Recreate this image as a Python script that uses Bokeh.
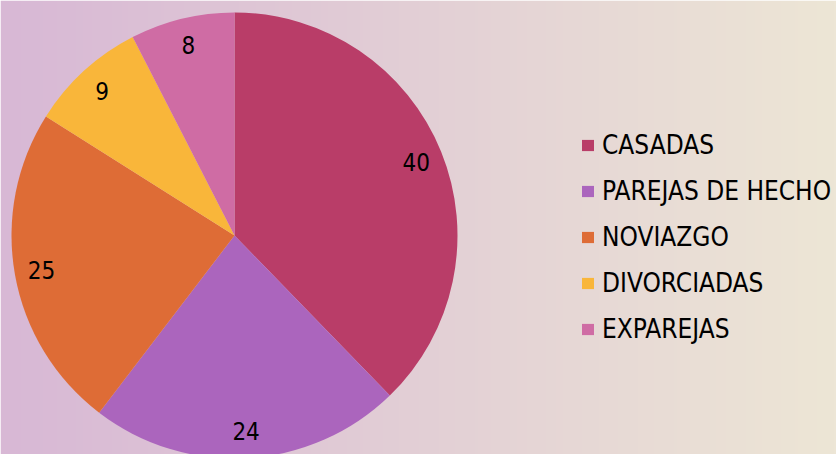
import numpy as np
from math import pi, cos, sin
from bokeh.plotting import figure
from bokeh.models import ColumnDataSource, Range1d, Legend, LegendItem
from bokeh.core.properties import value
from bokeh.embed import file_html
from bokeh.resources import INLINE

categories = ["CASADAS", "PAREJAS DE HECHO", "NOVIAZGO", "DIVORCIADAS", "EXPAREJAS"]
values = [40, 24, 25, 9, 8]
colors = ["#B93D68", "#AB65BD", "#DE6C36", "#F9B63A", "#CF6CA4"]

W, H = 836, 454
CX, CY, R = 234, 219, 223
FONT = "'DejaVu Sans Condensed', Roboto"

total = float(sum(values))
starts, ends, lx, ly = [], [], [], []
a = pi / 2
for v in values:
    span = v / total * 2 * pi
    starts.append(a - span)
    ends.append(a)
    mid = a - span / 2
    lx.append(CX + 196 * cos(mid))
    ly.append(CY + 196 * sin(mid))
    a -= span

src = ColumnDataSource(dict(cat=categories, val=[str(v) for v in values], color=colors,
                            start=starts, end=ends, lx=lx, ly=ly))

p = figure(width=W, height=H, output_backend="svg", toolbar_location=None,
           x_range=Range1d(0, W), y_range=Range1d(0, H),
           min_border=0, outline_line_color=None)
p.axis.visible = False
p.grid.visible = False
p.background_fill_color = None
p.border_fill_color = "#E3D0D6"

# horizontal gradient background
n = 256
img = np.empty((1, n), dtype=np.uint32)
view = img.view(dtype=np.uint8).reshape((1, n, 4))
left = np.array([216, 184, 213])
right = np.array([237, 230, 214])
t = np.linspace(0, 1, n)
for i in range(3):
    view[0, :, i] = (left[i] + (right[i] - left[i]) * t).astype(np.uint8)
view[0, :, 3] = 255
p.image_rgba(image=[img], x=0, y=0, dw=W, dh=H)

rs = []
for i in range(len(values)):
    r = p.wedge(x=CX, y=CY, radius=R, start_angle=starts[i], end_angle=ends[i],
                fill_color=colors[i], line_color=None)
    rs.append(r)

p.text(x="lx", y="ly", text="val", source=src, text_align="center",
       text_baseline="middle", text_font=value(FONT), text_font_size="24px",
       text_color="black")

legend = Legend(items=[LegendItem(label=c, renderers=[r]) for c, r in zip(categories, rs)],
                location=(580, 110), orientation="vertical",
                label_text_font=FONT, label_text_font_size="26px",
                label_text_color="black", glyph_width=15, glyph_height=14,
                label_standoff=7, spacing=16, padding=0, margin=0,
                background_fill_alpha=0, border_line_color=None,
                label_height=20)
p.add_layout(legend, "center")

open("out.html", "w").write(file_html(p, INLINE))
